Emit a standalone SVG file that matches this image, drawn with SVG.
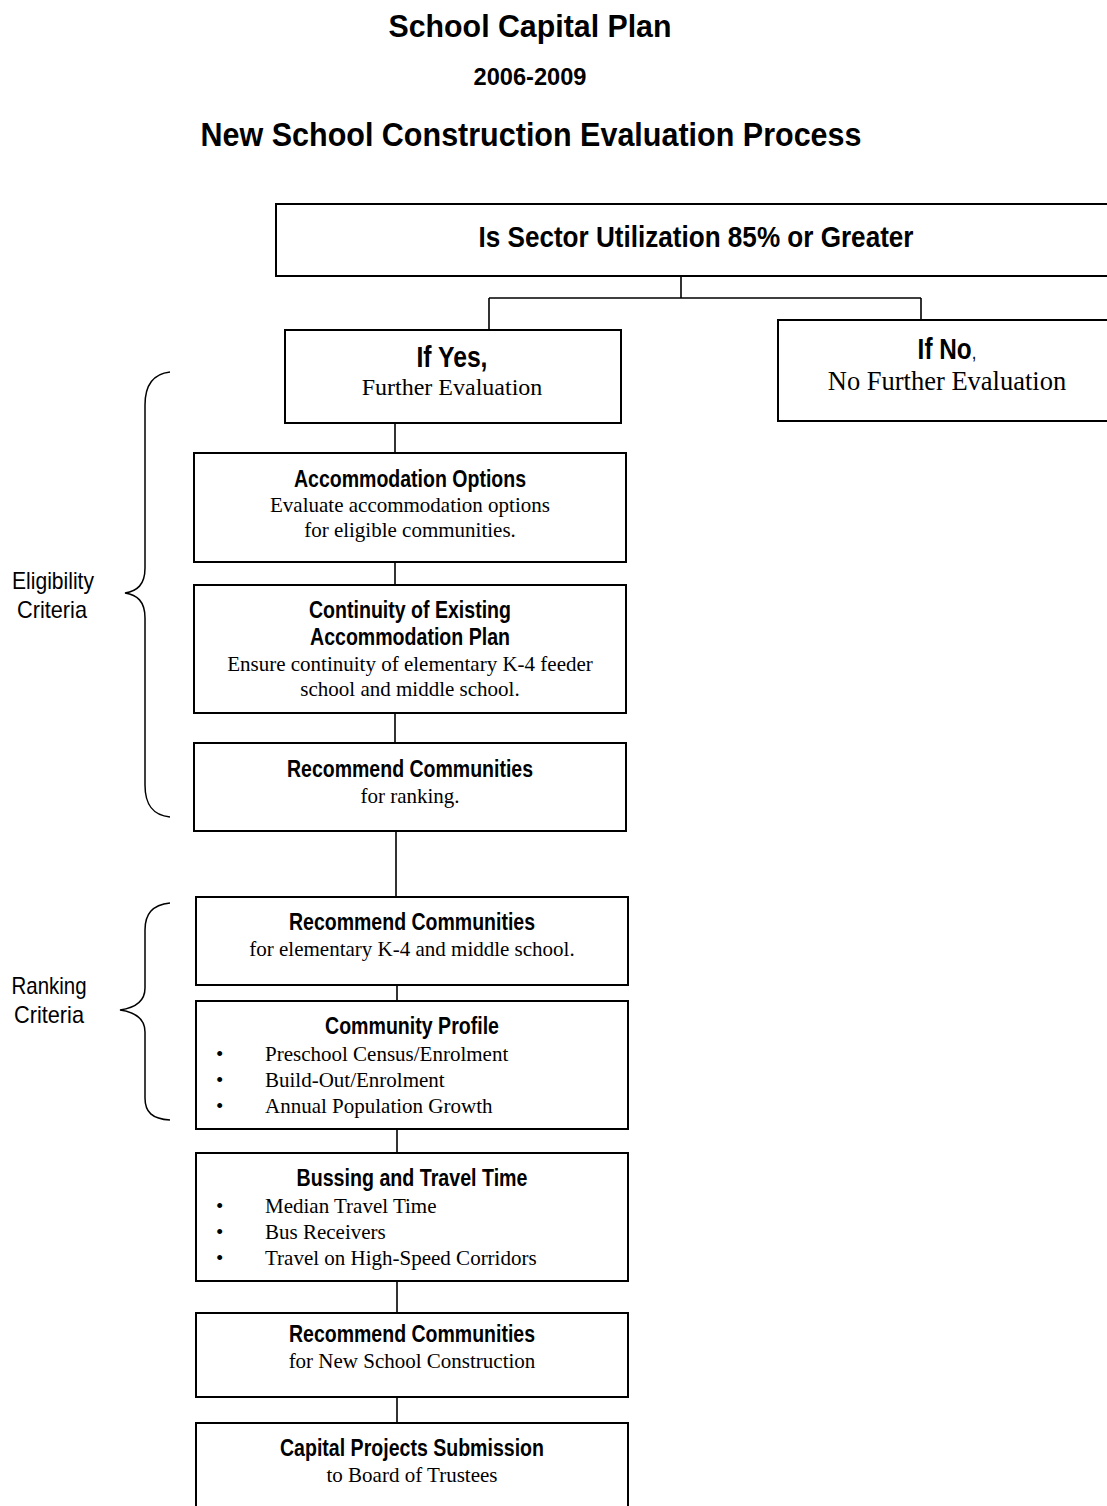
<svg xmlns="http://www.w3.org/2000/svg" width="1107" height="1506" viewBox="0 0 1107 1506">
<style>
.bg{fill:#fff}
.box{fill:#fff;stroke:#000;stroke-width:2}
.ln{fill:none;stroke:#000;stroke-width:1.6}
.br{fill:none;stroke:#000;stroke-width:1.5}
.h{font-family:"Liberation Sans Narrow","Liberation Sans",Arial,sans-serif;font-weight:bold;font-size:23px;fill:#000;text-anchor:middle}
.lbl{font-family:"Liberation Sans Narrow","Liberation Sans",Arial,sans-serif;font-size:24px;fill:#000;text-anchor:middle}
.s{font-family:"Liberation Serif","Times New Roman",serif;font-size:21px;fill:#000;text-anchor:middle}
.b{font-family:"Liberation Serif","Times New Roman",serif;font-size:21px;fill:#000}
</style>
<rect class="bg" x="0" y="0" width="1107" height="1506"/>
<g id="title">
<text class="h" x="530" y="37" style="font-size:32px" textLength="283" lengthAdjust="spacingAndGlyphs">School Capital Plan</text>
<text class="h" x="530" y="85" style="font-size:24px" textLength="113" lengthAdjust="spacingAndGlyphs">2006-2009</text>
<text class="h" x="531" y="146" style="font-size:33px" textLength="661" lengthAdjust="spacingAndGlyphs">New School Construction Evaluation Process</text>
</g>
<g id="connectors">
<path class="ln" d="M681,276 V298 M489,298 H921 M489,298 V330 M921,298 V320"/>
<path class="ln" d="M395,423 V453 M395,562 V585 M395,713 V743 M396,831 V897 M397,985 V1001 M397,1129 V1153 M397,1281 V1313 M397,1397 V1423"/>
</g>
<g id="n-top">
<rect class="box" x="276" y="204" width="850" height="72"/>
<text class="h" x="696" y="247" style="font-size:30px" textLength="435" lengthAdjust="spacingAndGlyphs">Is Sector Utilization 85% or Greater</text>
</g>
<g id="n-yes">
<rect class="box" x="285" y="330" width="336" height="93"/>
<text class="h" x="452" y="367" style="font-size:30px" textLength="71" lengthAdjust="spacingAndGlyphs">If Yes,</text>
<text class="s" x="452" y="395" style="font-size:24px">Further Evaluation</text>
</g>
<g id="n-no">
<rect class="box" x="778" y="320" width="340" height="101"/>
<text class="h" transform="translate(947,359) scale(0.84,1)" x="0" y="0" style="font-size:29px">If No<tspan style="font-weight:normal;font-size:20px">,</tspan></text>
<text class="s" x="947" y="390" style="font-size:26.5px">No Further Evaluation</text>
</g>
<g id="n-accommodation">
<rect class="box" x="194" y="453" width="432" height="109"/>
<text class="h" x="410" y="487" textLength="232" lengthAdjust="spacingAndGlyphs">Accommodation Options</text>
<text class="s" x="410" y="512">Evaluate accommodation options</text>
<text class="s" x="410" y="537">for eligible communities.</text>
</g>
<g id="n-continuity">
<rect class="box" x="194" y="585" width="432" height="128"/>
<text class="h" x="410" y="618" textLength="202" lengthAdjust="spacingAndGlyphs">Continuity of Existing</text>
<text class="h" x="410" y="645" textLength="200" lengthAdjust="spacingAndGlyphs">Accommodation Plan</text>
<text class="s" x="410" y="671">Ensure continuity of elementary K-4 feeder</text>
<text class="s" x="410" y="696">school and middle school.</text>
</g>
<g id="n-recommend-ranking">
<rect class="box" x="194" y="743" width="432" height="88"/>
<text class="h" x="410" y="777" textLength="246" lengthAdjust="spacingAndGlyphs">Recommend Communities</text>
<text class="s" x="410" y="803">for ranking.</text>
</g>
<g id="n-recommend-k4">
<rect class="box" x="196" y="897" width="432" height="88"/>
<text class="h" x="412" y="930" textLength="246" lengthAdjust="spacingAndGlyphs">Recommend Communities</text>
<text class="s" x="412" y="956">for elementary K-4 and middle school.</text>
</g>
<g id="n-profile">
<rect class="box" x="196" y="1001" width="432" height="128"/>
<text class="h" x="412" y="1034" textLength="174" lengthAdjust="spacingAndGlyphs">Community Profile</text>
<text class="b" x="216" y="1061">•</text><text class="b" x="265" y="1061">Preschool Census/Enrolment</text>
<text class="b" x="216" y="1087">•</text><text class="b" x="265" y="1087">Build-Out/Enrolment</text>
<text class="b" x="216" y="1113">•</text><text class="b" x="265" y="1113">Annual Population Growth</text>
</g>
<g id="n-bussing">
<rect class="box" x="196" y="1153" width="432" height="128"/>
<text class="h" x="412" y="1186" textLength="231" lengthAdjust="spacingAndGlyphs">Bussing and Travel Time</text>
<text class="b" x="216" y="1213">•</text><text class="b" x="265" y="1213">Median Travel Time</text>
<text class="b" x="216" y="1239">•</text><text class="b" x="265" y="1239">Bus Receivers</text>
<text class="b" x="216" y="1265">•</text><text class="b" x="265" y="1265">Travel on High-Speed Corridors</text>
</g>
<g id="n-recommend-new">
<rect class="box" x="196" y="1313" width="432" height="84"/>
<text class="h" x="412" y="1342" textLength="246" lengthAdjust="spacingAndGlyphs">Recommend Communities</text>
<text class="s" x="412" y="1368">for New School Construction</text>
</g>
<g id="n-capital">
<rect class="box" x="196" y="1423" width="432" height="100"/>
<text class="h" x="412" y="1456" textLength="264" lengthAdjust="spacingAndGlyphs">Capital Projects Submission</text>
<text class="s" x="412" y="1482">to Board of Trustees</text>
</g>
<g id="eligibility">
<path class="br" d="M170,372 C152,374 145,386 145,405 L145,568 C145,585 137,591 125,593 C137,595 145,601 145,618 L145,785 C145,804 152,815 170,817"/>
<text class="lbl" x="53" y="589" textLength="82" lengthAdjust="spacingAndGlyphs">Eligibility</text>
<text class="lbl" x="52" y="618" textLength="70" lengthAdjust="spacingAndGlyphs">Criteria</text>
</g>
<g id="ranking">
<path class="br" d="M170,903 C152,905 145,914 145,930 L145,988 C145,1002 134,1008 120,1010 C134,1012 145,1018 145,1032 L145,1098 C145,1112 152,1119 170,1120"/>
<text class="lbl" x="49" y="994" textLength="75" lengthAdjust="spacingAndGlyphs">Ranking</text>
<text class="lbl" x="49" y="1023" textLength="70" lengthAdjust="spacingAndGlyphs">Criteria</text>
</g>
</svg>
